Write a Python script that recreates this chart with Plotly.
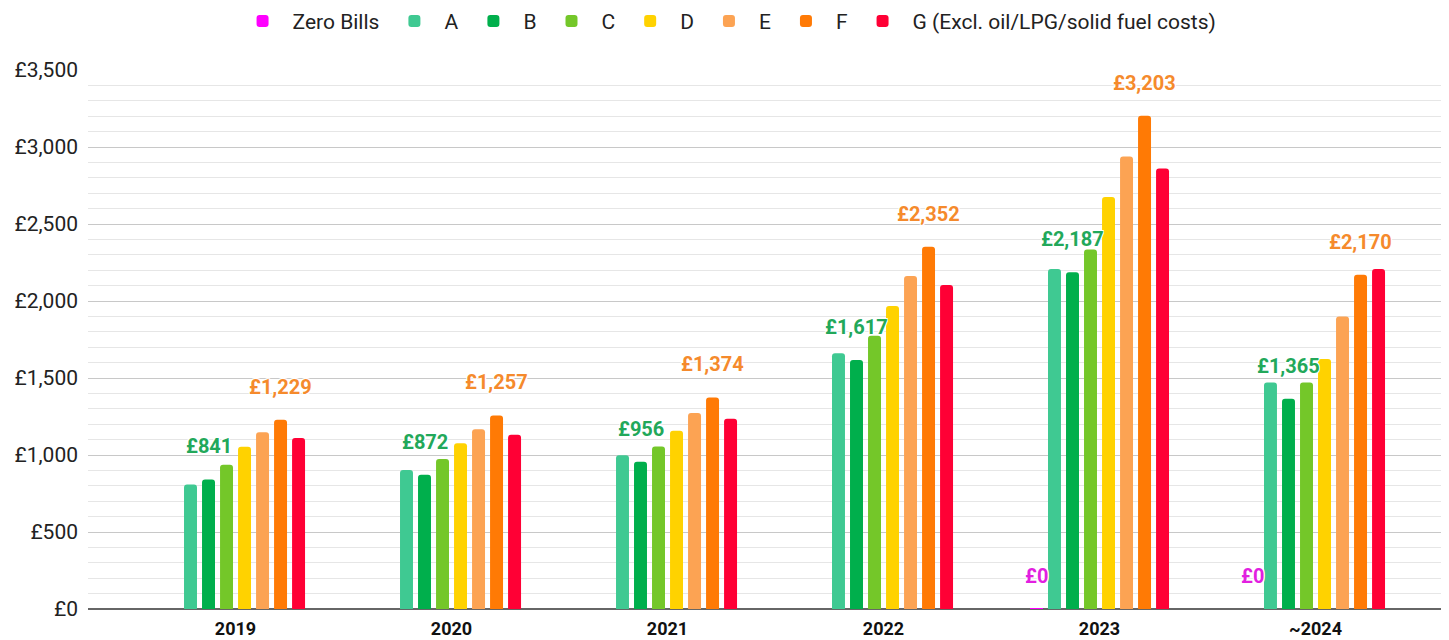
import plotly.graph_objects as go

# ---- data ----
years = ["2019", "2020", "2021", "2022", "2023", "~2024"]

zero_bills = [None, None, None, None, 0, 0]
band_a = [809, 903, 998, 1660, 2207, 1471]
band_b = [841, 872, 956, 1617, 2187, 1365]
band_c = [937, 974, 1056, 1775, 2334, 1471]
band_d = [1054, 1076, 1158, 1968, 2675, 1624]
band_e = [1147, 1167, 1273, 2162, 2939, 1900]
band_f = [1229, 1257, 1374, 2352, 3203, 2170]
band_g = [1110, 1132, 1236, 2104, 2860, 2207]

series_names = ["Zero Bills", "A", "B", "C", "D", "E", "F",
                "G (Excl. oil/LPG/solid fuel costs)"]
series_values = [zero_bills, band_a, band_b, band_c, band_d, band_e, band_f, band_g]
series_colors = ["#FF00FF", "#3FC992", "#00AF4C", "#74C729", "#FFD200",
                 "#FCA353", "#FF7A05", "#FF0035"]

# which series get value labels, and the label colour
labelled = {0: "#E21FE0", 2: "#22A85A", 6: "#F58A2C"}

FONT = "Roboto, Arial, sans-serif"
BARGAP = 0.333
N = len(series_names)

fig = go.Figure()
for k, (name, vals, col) in enumerate(zip(series_names, series_values, series_colors)):
    line_w = 0
    if k == 0:
        # zero-value bar in 2023 is drawn as a thin sliver on the baseline
        line_w = [0, 0, 0, 0, 2, 0]
    fig.add_trace(go.Bar(
        name=name, x=years, y=vals,
        marker=dict(color=col, line=dict(width=line_w, color=col)),
        hoverinfo="x+y+name",
    ))

# value labels above selected bars
slot = (1 - BARGAP) / N
annotations = []
for k, col in labelled.items():
    vals = series_values[k]
    for i, v in enumerate(vals):
        if v is None:
            continue
        annotations.append(dict(
            x=i + (k - (N - 1) / 2) * slot, y=v, xref="x", yref="y",
            text=f"£{v:,}", showarrow=False, yanchor="middle", yshift=33,
            font=dict(family=FONT, size=20, color=col, weight="bold",
                      shadow="-1px -1px 0 white, 1px -1px 0 white, -1px 1px 0 white, 1px 1px 0 white"),
        ))

# the page body adds an 8px offset, so the figure is sized to fill the rest of the window
fig.update_layout(
    width=1441, height=632,
    margin=dict(l=80, r=0, t=62, b=31, autoexpand=False),
    paper_bgcolor="white", plot_bgcolor="white",
    barmode="group", bargap=BARGAP, bargroupgap=0.28, barcornerradius=3,
    font=dict(family=FONT, size=19, color="#222222"),
    legend=dict(orientation="h", x=0.499, xref="container", xanchor="center",
                y=0.979, yref="container", yanchor="middle",
                font=dict(family=FONT, size=21, color="#222222"), itemwidth=50,
                traceorder="normal", bgcolor="rgba(0,0,0,0)"),
    annotations=annotations,
    showlegend=True,
)
fig.update_xaxes(
    type="category", range=[-0.683, 5.618], showgrid=False, showline=False,
    tickfont=dict(family=FONT, size=18, color="#111111", weight="bold"),
    ticks="", ticklabelstandoff=7, automargin=False,
)
fig.update_yaxes(
    range=[0, 3500], dtick=500, tickprefix="£", tickformat=",d",
    showgrid=True, gridcolor="#C8C8C8", gridwidth=1,
    minor=dict(dtick=100, showgrid=True, gridcolor="#E6E6E6", gridwidth=1),
    zeroline=True, zerolinecolor="#666666", zerolinewidth=1.5,
    tickfont=dict(family=FONT, size=21, color="#222222"),
    ticks="", ticklabelstandoff=9, automargin=False,
)

fig.write_html("out.html")
